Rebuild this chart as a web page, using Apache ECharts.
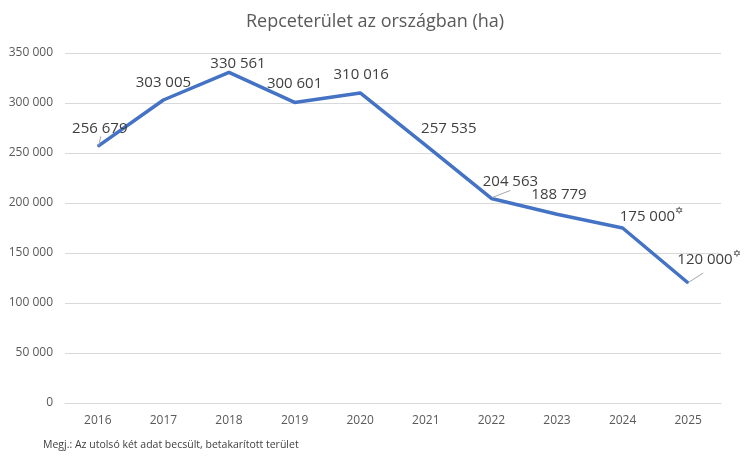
<!DOCTYPE html>
<html>
<head>
<meta charset="utf-8">
<script src="https://cdn.jsdelivr.net/npm/echarts@6/dist/echarts.min.js"></script>
<style>html,body{margin:0;padding:0;background:#fff}#c{width:750px;height:460px}</style>
</head>
<body>
<div id="c"></div>
<script>
var years = ['2016','2017','2018','2019','2020','2021','2022','2023','2024','2025'];
var area = [256679, 303005, 330561, 300601, 310016, 257535, 204563, 188779, 175000, 120000];
var estimated = [false, false, false, false, false, false, false, false, true, true];
var titleText = 'Repceterület az országban (ha)';
var noteText = 'Megj.: Az utolsó két adat becsült, betakarított terület';

// label offsets (layout only, pixels)
var offs = [[2,-5],[0,-4],[9,4],[0,-6],[1,-5],[23,-4],[19,-4],[2,-6],[29,5],[21,-7]];
// leader lines: data index and pixel end offset (layout only)
var leaderIdx = [0, 6, 9];
var leaderEnd = [[3,-10],[19,-8],[15,-10]];

function fmt(v){ return String(v).replace(/\B(?=(\d{3})+(?!\d))/g, ' '); }

var chart = echarts.init(document.getElementById('c'), null, {renderer:'canvas'});
var FONT = '"Open Sans", sans-serif';
chart.setOption({
  animation: false,
  textStyle: {fontFamily: FONT},
  title: {
    text: titleText, left: 'center', top: 8,
    textStyle: {fontFamily: FONT, fontSize: 18, fontWeight: 'normal', color: '#595959'}
  },
  graphic: [{
    type: 'text', left: 43, top: 440,
    style: {text: noteText, font: '10.5px ' + FONT, fill: '#404040'}
  }],
  grid: {left: 65, right: 29, top: 53, bottom: 57},
  xAxis: {
    type: 'category', data: years, boundaryGap: true,
    axisLine: {lineStyle: {color: '#d9d9d9'}},
    axisTick: {show: false},
    axisLabel: {color: '#595959', fontSize: 12, margin: 12, fontFamily: FONT}
  },
  yAxis: {
    type: 'value', min: 0, max: 350000, interval: 50000,
    axisLine: {show: false}, axisTick: {show: false},
    splitLine: {lineStyle: {color: '#d9d9d9'}},
    axisLabel: {color: '#595959', fontSize: 12, margin: 12, fontFamily: FONT,
      formatter: function(v){ return fmt(v); }}
  },
  series: [{
    type: 'line',
    z: 2,
    data: area,
    symbol: 'circle', symbolSize: 1, showSymbol: true,
    itemStyle: {color: '#4472C4'},
    lineStyle: {color: '#4472C4', width: 3.5},
    label: {
      show: true, position: 'top', distance: 5,
      formatter: function(p){
        return '{n|' + fmt(p.value) + '}' + (estimated[p.dataIndex] ? '{s|✡}' : '');
      },
      rich: {
        n: {fontSize: 15, color: '#404040', fontFamily: FONT},
        s: {fontSize: 10, color: '#404040', verticalAlign: 'top', padding: [0,0,11,0], fontFamily: '"DejaVu Sans"'}
      }
    },
    labelLayout: function(p){
      var o = offs[p.dataIndex];
      return {dx: o[0], dy: o[1]};
    }
  }, {
    type: 'custom',
    z: 3,
    data: leaderIdx.map(function(i, k){ return [i, area[i], k]; }),
    renderItem: function(params, api){
      var p = api.coord([api.value(0), api.value(1)]);
      var e = leaderEnd[api.value(2)];
      return {
        type: 'line',
        shape: {x1: p[0] + 1, y1: p[1] - 1, x2: p[0] + e[0], y2: p[1] + e[1]},
        style: {stroke: '#a6a6a6', lineWidth: 1}
      };
    },
    silent: true
  }]
});
</script>
</body>
</html>
